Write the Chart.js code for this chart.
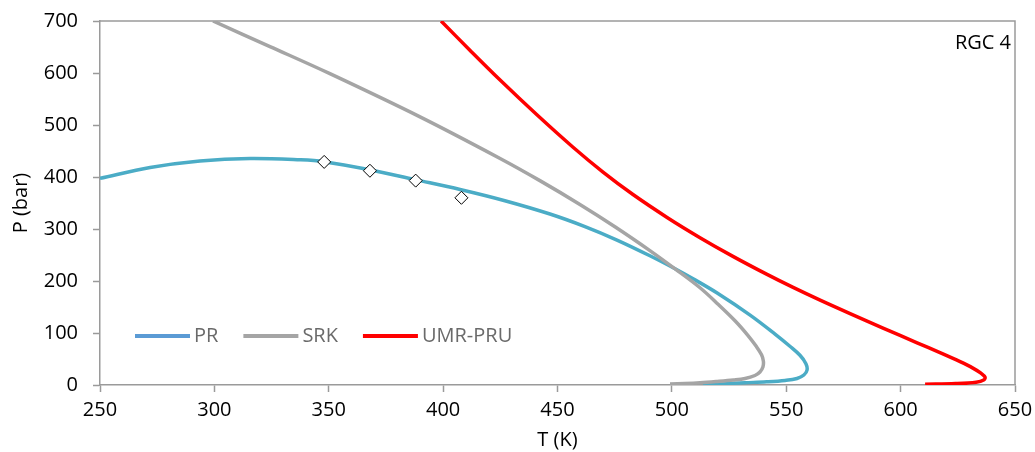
<!DOCTYPE html>
<html>
<head>
<meta charset="utf-8">
<script src="https://cdn.jsdelivr.net/npm/chart.js@4.4.1/dist/chart.umd.min.js"></script>
<style>
  html, body { margin: 0; padding: 0; background: #fff; }
  #wrap { width: 1035px; height: 452px; }
</style>
</head>
<body>
<div id="wrap"><canvas id="c" width="1035" height="452"></canvas></div>
<script>
// phase envelope RGC 4 — PR / SRK / UMR-PRU vs experimental points

const seriesNames  = ['PR', 'SRK', 'UMR-PRU'];
const lineColors   = ['#4BACC6', '#A5A5A5', '#FF0000'];
const legendColors = ['#5B9BD5', '#A5A5A5', '#FF0000'];

const prT = [250, 271.9, 293.7, 315.6, 337.4, 347.8, 367.9, 387.7, 407.4, 427, 446.7, 462, 476, 490.4, 501.4, 509.3, 519.8, 534.2, 545.1, 551.6, 556, 558.6, 559.1, 557.7, 554.7, 549.5, 541.4, 532, 526.9, 521.2, 513.6];
const prP = [397.5, 418.3, 430.8, 435.6, 433, 429.5, 414, 395, 376, 354.4, 328.8, 304.6, 278.7, 248.5, 223.5, 204.2, 176.9, 134.4, 97.9, 74.5, 57.1, 41, 28.8, 19.2, 12.5, 8.8, 6.2, 4.4, 3.3, 1.9, 0];

const srkT = [299.4, 324.3, 350.5, 389.9, 424.9, 442.3, 459.8, 475.1, 490.4, 501.4, 512.3, 520.2, 527.7, 533.3, 536.8, 539.2, 540, 539.8, 538.5, 536.3, 532, 526.9, 519.3, 512.3, 505.7, 499.2];
const srkP = [700, 650.8, 598.7, 515.6, 435.6, 393, 347.2, 304.4, 258.5, 223.3, 187, 155.3, 123.1, 95.1, 74.8, 58, 46, 34.6, 25, 18.3, 12.5, 9.6, 6.7, 4.4, 2.9, 1.9];

const umrT = [399.1, 411.7, 424.9, 441, 456.8, 469.9, 483, 497.9, 512.3, 526.7, 541.6, 553, 564.8, 577.9, 592.3, 607.2, 617.2, 626, 631.6, 635.1, 636.9, 636.3, 633, 624, 610.7];
const umrP = [700, 643.9, 586.5, 519.7, 457.3, 409.5, 366.3, 322.3, 283.4, 247.4, 212.7, 187.6, 163.1, 137.2, 109.5, 81.2, 62.2, 44.8, 32.5, 22.7, 15, 9.5, 5.5, 2.8, 1.3];

const expT = [348, 368, 388, 408];
const expP = [429, 412, 393, 360];

const xTicks = [250, 300, 350, 400, 450, 500, 550, 600, 650];
const yTicks = [0, 100, 200, 300, 400, 500, 600, 700];

const FONT = '"Open Sans", sans-serif';
const AXIS = '#9A9A9A';

const pts = (xs, ys) => xs.map((x, i) => ({ x, y: ys[i] }));

function curve(i, xs, ys, order) {
  return {
    label: seriesNames[i],
    data: pts(xs, ys),
    showLine: true,
    borderColor: lineColors[i],
    backgroundColor: lineColors[i],
    borderWidth: 3.5,
    pointRadius: 0,
    tension: 0.35,
    order,
  };
}

// top + right frame of the plot box
const frame = {
  id: 'frame',
  beforeDatasetsDraw(chart) {
    const { ctx, chartArea: a } = chart;
    ctx.save();
    ctx.strokeStyle = AXIS;
    ctx.lineWidth = 1.5;
    ctx.beginPath();
    ctx.moveTo(a.left, a.top);
    ctx.lineTo(a.right, a.top);
    ctx.lineTo(a.right, a.bottom);
    ctx.stroke();
    ctx.restore();
  }
};

// legend inside the plot, plus the RGC 4 tag
const innerLegend = {
  id: 'innerLegend',
  afterDraw(chart) {
    const { ctx, chartArea: a } = chart;
    ctx.save();
    ctx.font = '20px ' + FONT;
    ctx.textBaseline = 'middle';
    let x = a.left + 35;
    const y = a.top + 315;
    seriesNames.forEach((name, i) => {
      ctx.strokeStyle = legendColors[i];
      ctx.lineWidth = 4;
      ctx.beginPath();
      ctx.moveTo(x, y);
      ctx.lineTo(x + 55, y);
      ctx.stroke();
      x += 59;
      ctx.fillStyle = '#6A6A6A';
      ctx.textAlign = 'left';
      ctx.fillText(name, x, y);
      x += ctx.measureText(name).width + 25;
    });
    ctx.fillStyle = '#000';
    ctx.textAlign = 'right';
    ctx.fillText('RGC 4', a.right - 4, a.top + 22);
    ctx.restore();
  }
};

new Chart(document.getElementById('c'), {
  type: 'scatter',
  data: {
    datasets: [
      {
        label: 'Exp.',
        data: pts(expT, expP),
        pointStyle: 'rectRot',
        pointRadius: 6.5,
        pointBackgroundColor: '#fff',
        pointBorderColor: '#000',
        pointBorderWidth: 1,
        order: 0,
      },
      curve(2, umrT, umrP, 1),
      curve(1, srkT, srkP, 2),
      curve(0, prT, prP, 3),
    ]
  },
  options: {
    responsive: false,
    animation: false,
    layout: { padding: { left: 0, right: 20, top: 21, bottom: 0 } },
    plugins: { legend: { display: false }, tooltip: { enabled: false } },
    scales: {
      x: {
        type: 'linear', min: 250, max: 650,
        afterBuildTicks: s => { s.ticks = xTicks.map(v => ({ value: v })); },
        afterFit: s => { s.height = 67; s.paddingLeft = 0; s.paddingRight = 0; },
        ticks: { color: '#000', font: { family: FONT, size: 20 }, padding: 6 },
        grid: { drawOnChartArea: false, drawTicks: true, tickLength: 7, color: AXIS, tickWidth: 1.5 },
        border: { color: AXIS, width: 1.5 },
        title: { display: true, text: 'T (K)', color: '#000', font: { family: FONT, size: 20 }, padding: { top: 0, bottom: 0 } },
      },
      y: {
        type: 'linear', min: 0, max: 700,
        afterBuildTicks: s => { s.ticks = yTicks.map(v => ({ value: v })); },
        afterFit: s => { s.width = 100; s.paddingTop = 0; s.paddingBottom = 0; },
        ticks: { color: '#000', font: { family: FONT, size: 20 }, padding: 15 },
        grid: { drawOnChartArea: false, drawTicks: true, tickLength: 7, color: AXIS, tickWidth: 1.5 },
        border: { color: AXIS, width: 1.5 },
        title: { display: true, text: 'P (bar)', color: '#000', font: { family: FONT, size: 20 }, padding: { top: 9, bottom: 0 } },
      }
    }
  },
  plugins: [frame, innerLegend]
});
</script>
</body>
</html>
